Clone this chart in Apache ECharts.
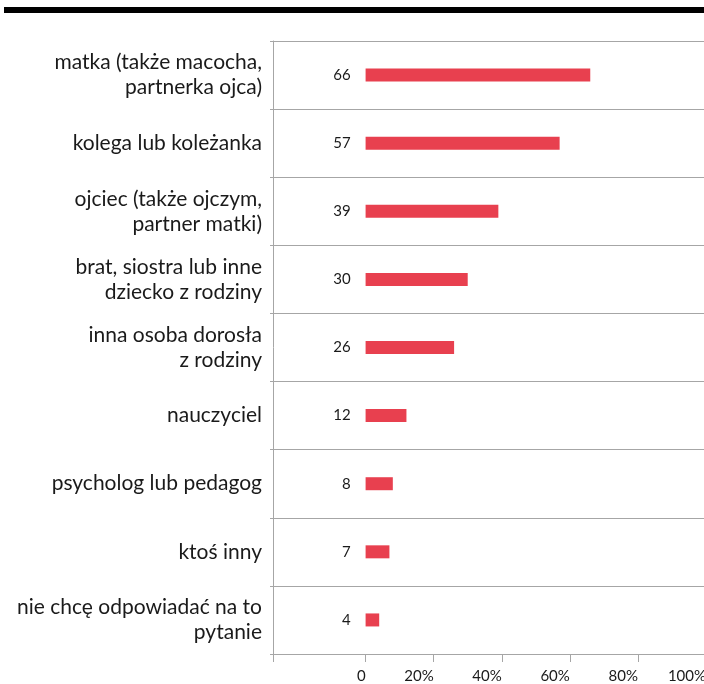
<!DOCTYPE html>
<html style="height: 100%;">
  <head>
    <meta charset="utf-8" />
    <script src="https://cdn.jsdelivr.net/npm/echarts@6/dist/echarts.min.js"></script>
  </head>
  <body style="height: 100%; margin: 0; background: #fff;">
    <div id="container" style="width: 704px; height: 684px;"></div>
    <script type="text/javascript">
      var categories = [
        "matka (także macocha,\npartnerka ojca)",
        "kolega lub koleżanka",
        "ojciec (także ojczym,\npartner matki)",
        "brat, siostra lub inne\ndziecko z rodziny",
        "inna osoba dorosła\nz rodziny",
        "nauczyciel",
        "psycholog lub pedagog",
        "ktoś inny",
        "nie chcę odpowiadać na to\npytanie",
      ];
      var values = [66, 57, 39, 30, 26, 12, 8, 7, 4];
      var tickLabels = [0, 20, 40, 60, 80, 100];
      var axisStart = -27.2;

      var myChart = echarts.init(document.getElementById("container"));
      var lineColor = "#a6a6a6";
      var option = {
        animation: false,
        textStyle: { fontFamily: "Lato" },
        graphic: [
          {
            type: "rect",
            shape: { x: 4, y: 7, width: 700, height: 6 },
            style: { fill: "#000" },
          },
        ],
        grid: {
          left: 273,
          right: -2,
          top: 41,
          bottom: 30,
          containLabel: false,
          outerBoundsMode: "none",
        },
        xAxis: {
          type: "value",
          min: axisStart,
          max: 100,
          axisLine: { show: true, onZero: false, lineStyle: { color: lineColor } },
          axisTick: {
            show: true,
            length: 8,
            customValues: [axisStart].concat(tickLabels),
            lineStyle: { color: lineColor },
          },
          axisLabel: {
            customValues: tickLabels,
            align: "right",
            margin: 15,
            fontSize: 15,
            color: "#1a1a1a",
            formatter: function (v) {
              return v === 0 ? "0" : v + "%";
            },
          },
          splitLine: { show: false },
        },
        yAxis: {
          type: "category",
          inverse: true,
          data: categories,
          axisLine: { show: true, onZero: false, lineStyle: { color: lineColor } },
          axisTick: { show: true, length: 3, lineStyle: { color: lineColor } },
          splitLine: { show: true, lineStyle: { color: lineColor } },
          axisLabel: {
            margin: 11,
            fontSize: 21,
            lineHeight: 25,
            align: "right",
            color: "#1a1a1a",
          },
        },
        series: [
          {
            type: "bar",
            data: values,
            barWidth: 13,
            itemStyle: { color: "#e8404f" },
            label: {
              show: true,
              position: "left",
              distance: 15,
              fontSize: 15,
              color: "#1a1a1a",
            },
          },
        ],
      };
      myChart.setOption(option);
    </script>
  </body>
</html>
